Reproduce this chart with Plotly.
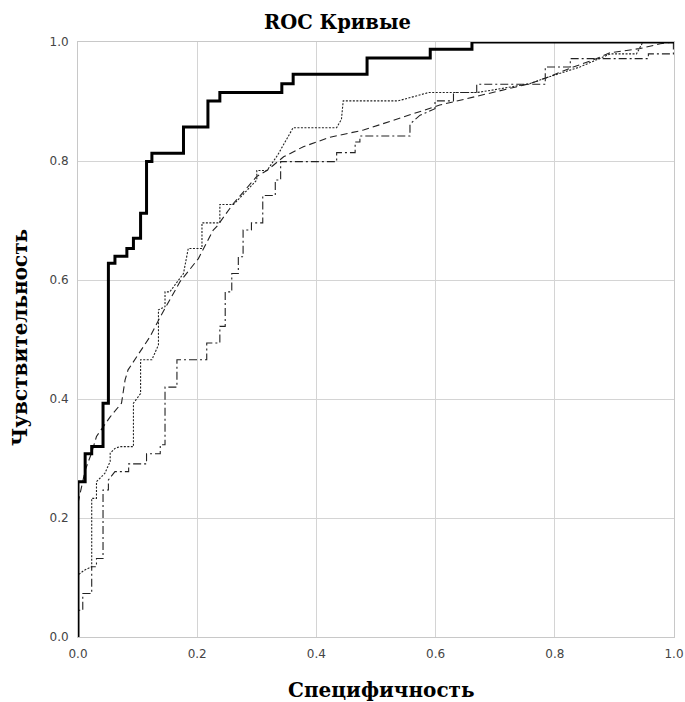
import plotly.graph_objects as go

# ---- data ----
thick_x = [0, 0, 0.012, 0.023, 0.042, 0.051, 0.062, 0.082, 0.093, 0.105, 0.115, 0.124,
           0.177, 0.218, 0.238, 0.342, 0.361, 0.485, 0.591, 0.661, 1.0]
thick_y = [0, 0.261, 0.308, 0.320, 0.393, 0.628, 0.640, 0.653, 0.670, 0.712, 0.799, 0.813,
           0.857, 0.901, 0.915, 0.930, 0.946, 0.973, 0.988, 1.0, 1.0]

dot_x = [0, 0, 0.010, 0.023, 0.023, 0.031, 0.031, 0.045, 0.054, 0.054, 0.062, 0.070, 0.093,
         0.093, 0.105, 0.105, 0.124, 0.135, 0.135, 0.146, 0.146, 0.154, 0.177, 0.185, 0.208,
         0.208, 0.238, 0.238, 0.261, 0.300, 0.300, 0.317, 0.335, 0.355, 0.361, 0.434, 0.442,
         0.445, 0.537, 0.588, 0.669, 0.700, 0.758, 0.786, 0.842, 0.870, 0.893, 0.937, 0.948, 1.0]
dot_y = [0, 0.104, 0.112, 0.118, 0.233, 0.233, 0.261, 0.275, 0.295, 0.309, 0.317, 0.320, 0.320,
         0.393, 0.409, 0.466, 0.466, 0.491, 0.550, 0.555, 0.580, 0.580, 0.611, 0.653, 0.653,
         0.696, 0.696, 0.727, 0.727, 0.768, 0.784, 0.784, 0.810, 0.845, 0.856, 0.856, 0.870,
         0.901, 0.901, 0.915, 0.915, 0.920, 0.930, 0.940, 0.958, 0.970, 0.980, 0.980, 1.0, 1.0]

dash_x = [0, 0.005, 0.012, 0.023, 0.031, 0.054, 0.073, 0.079, 0.084, 0.121, 0.138, 0.171,
          0.202, 0.227, 0.233, 0.261, 0.300, 0.317, 0.345, 0.378, 0.423, 0.479, 0.574, 0.607,
          0.691, 0.758, 0.786, 0.831, 0.865, 0.893, 0.943, 0.977, 1.0]
dash_y = [0.225, 0.250, 0.280, 0.310, 0.337, 0.370, 0.393, 0.432, 0.449, 0.505, 0.538, 0.597,
          0.636, 0.684, 0.690, 0.729, 0.774, 0.784, 0.807, 0.824, 0.840, 0.852, 0.883, 0.894,
          0.914, 0.930, 0.940, 0.958, 0.970, 0.982, 0.989, 0.997, 1.0]

dd_x = [0, 0, 0.008, 0.008, 0.023, 0.023, 0.031, 0.031, 0.042, 0.042, 0.051, 0.051, 0.062,
        0.085, 0.085, 0.115, 0.115, 0.138, 0.138, 0.146, 0.146, 0.166, 0.166, 0.216, 0.216,
        0.238, 0.238, 0.247, 0.247, 0.258, 0.258, 0.269, 0.269, 0.277, 0.277, 0.291, 0.291,
        0.310, 0.310, 0.331, 0.331, 0.340, 0.340, 0.434, 0.434, 0.465, 0.465, 0.473, 0.473,
        0.557, 0.557, 0.574, 0.599, 0.599, 0.630, 0.630, 0.669, 0.669, 0.784, 0.784, 0.826,
        0.826, 0.957, 0.957, 0.999, 0.999]
dd_y = [0, 0.045, 0.045, 0.073, 0.073, 0.118, 0.118, 0.132, 0.132, 0.247, 0.247, 0.264, 0.278,
        0.278, 0.291, 0.291, 0.308, 0.308, 0.323, 0.323, 0.420, 0.420, 0.466, 0.466, 0.494,
        0.494, 0.522, 0.522, 0.580, 0.580, 0.611, 0.611, 0.639, 0.639, 0.684, 0.684, 0.696,
        0.696, 0.742, 0.742, 0.768, 0.768, 0.799, 0.799, 0.814, 0.814, 0.832, 0.832, 0.842,
        0.842, 0.862, 0.877, 0.888, 0.901, 0.901, 0.915, 0.915, 0.929, 0.929, 0.958, 0.958,
        0.972, 0.972, 0.980, 0.980, 1.0]

tick_vals = [0.0, 0.2, 0.4, 0.6, 0.8, 1.0]
tick_text = ["0.0", "0.2", "0.4", "0.6", "0.8", "1.0"]

title_text = "ROC Кривые"
x_title = "Специфичность"
y_title = "Чувствительность"

# ---- figure ----
fig = go.Figure()
fig.add_trace(go.Scatter(x=dd_x, y=dd_y, mode="lines",
                         line=dict(color="#222", width=1.1, dash="8px,3px,2px,3px")))
fig.add_trace(go.Scatter(x=dash_x, y=dash_y, mode="lines",
                         line=dict(color="#222", width=1.1, dash="7px,4px")))
fig.add_trace(go.Scatter(x=dot_x, y=dot_y, mode="lines",
                         line=dict(color="#222", width=1.1, dash="2px,1.5px")))
fig.add_trace(go.Scatter(x=thick_x, y=thick_y, mode="lines", line_shape="hv",
                         line=dict(color="black", width=3)))

axis_common = dict(range=[0, 1], tickvals=tick_vals, ticktext=tick_text,
                   showgrid=True, gridcolor="#d4d4d4", gridwidth=1,
                   showline=True, linecolor="#c8c8c8", linewidth=1, mirror=True,
                   zeroline=False, ticks="", fixedrange=True, automargin=False,
                   tickfont=dict(family="DejaVu Sans", size=12, color="#444"))

fig.update_layout(
    width=685, height=702, autosize=False,
    margin=dict(l=78, r=11, t=42, b=65),
    paper_bgcolor="white", plot_bgcolor="white",
    showlegend=False,
    xaxis=dict(**axis_common, ticklabelstandoff=6),
    yaxis=dict(**axis_common, ticklabelstandoff=6),
    annotations=[
        dict(text="<b>" + title_text + "</b>", xref="paper", yref="paper",
             x=0.4346, y=1.032, xanchor="center", yanchor="middle", showarrow=False,
             font=dict(family="DejaVu Serif", size=19.5, color="black")),
        dict(text="<b>" + x_title + "</b>", xref="paper", yref="paper",
             x=0.509, y=-0.089, xanchor="center", yanchor="middle", showarrow=False,
             font=dict(family="DejaVu Serif", size=20, color="black")),
        dict(text="<b>" + y_title + "</b>", xref="paper", yref="paper",
             x=-0.0973, y=0.5025, xanchor="center", yanchor="middle", showarrow=False,
             textangle=-90,
             font=dict(family="DejaVu Serif", size=20, color="black")),
    ],
)

fig.write_html(
    "out.html",
    config={"displayModeBar": False, "responsive": False},
    post_script=("document.body.style.margin='0';"
                 "document.body.style.overflow='hidden';"),
)
